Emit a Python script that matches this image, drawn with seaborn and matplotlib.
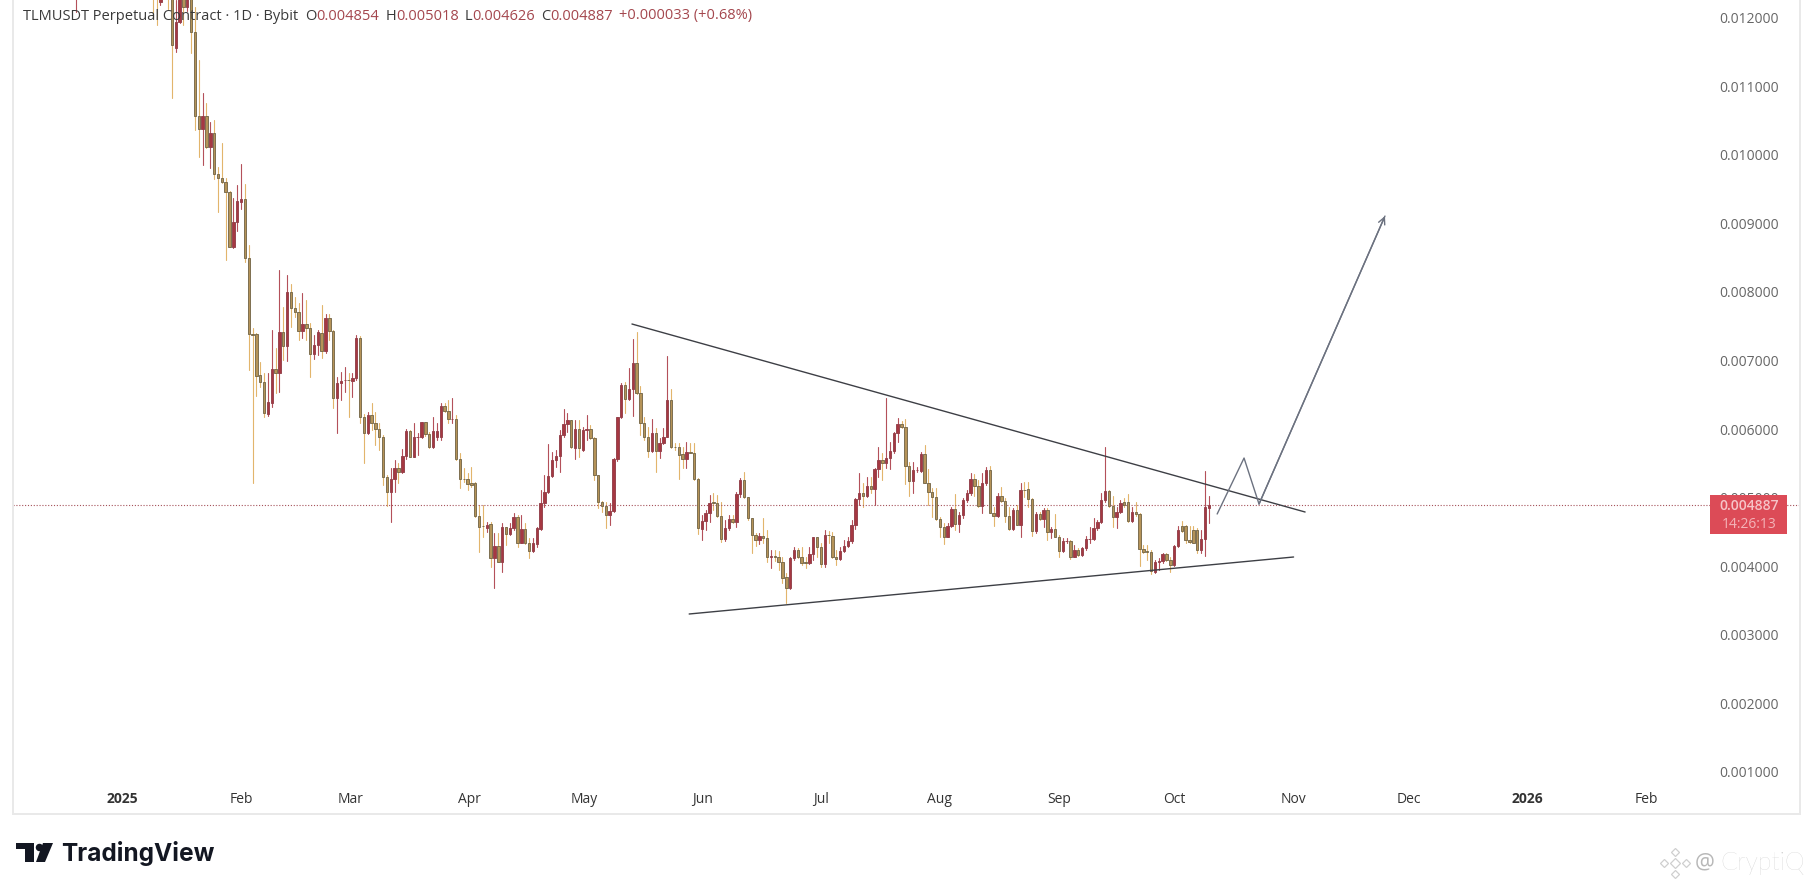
import numpy as np
import pandas as pd
import matplotlib
matplotlib.use("Agg")
import matplotlib.pyplot as plt
from matplotlib.patches import Rectangle, Polygon
import seaborn as sns

# =========================
# DATA (prices x 1e-6, TLMUSDT daily)
# =========================

opens = [
    12500, 12500, 12230, 12600, 12450, 12300, 11550, 11939, 12400, 12148, 12400, 11784, 10569,
    10369, 10569, 10117, 10311, 9713, 9655, 9606, 9451, 8659, 9013, 9314, 9349, 8488,
    7385, 7385, 6787, 6680, 6219, 6384, 6870, 6812, 7409, 7215, 7993, 7759, 7701, 7434, 7526, 7477,
    7089, 7225, 7395, 7142, 7614, 7434, 6447, 6666, 6710, 6714, 6705, 6739, 7322, 6180, 5946, 6204,
    6083, 5995, 5888, 5295, 5077, 5271, 5427, 5368, 5606, 5966, 5597, 5879, 5879, 6097, 5927, 5733,
    5888, 5888, 6340, 6267, 6151, 6151, 5567, 5275, 5275, 5218, 5218, 4736, 4590, 4561, 4610, 4114,
    4294, 4066, 4566, 4464, 4561, 4712, 4343, 4537, 4333, 4226, 4323, 4537, 4916, 5077, 5315, 5548,
    5611, 5912, 6073, 6131, 5718, 6000, 5694, 5990, 6000, 5864, 5324, 4941, 4882, 4746, 4809, 5558,
    6170, 6642, 6432, 6578, 6957, 6520, 6092, 5888, 5684, 5946, 5684, 5791, 5888, 6423, 5738, 5733,
    5631, 5558, 5669, 5655, 5266,
    4542, 4663, 4780, 4930, 4925, 4731, 4391, 4551, 4683, 4648, 5052, 5256, 5003, 4697, 4454, 4381,
    4440, 4405, 4138, 4143, 4138, 4056, 3837, 3676, 4114, 4235, 4128, 4056, 4051, 4177, 4420, 4274,
    4031, 4454, 4445, 4138, 4104, 4221, 4299, 4371, 4600, 4979, 5062, 5028, 5169, 5120, 5411, 5548,
    5509, 5572, 5684, 5936, 6072, 6024, 5460, 5246, 5402, 5382, 5635, 5217, 5086, 5003, 4692, 4566,
    4430, 4590, 4833, 4614, 4746, 4964, 5062, 5271, 5173, 4882, 5207, 5402, 4780, 4736, 5023, 4955,
    4736, 4542, 4819, 4605, 5110, 5120, 4974, 4517, 4760, 4687, 4819, 4493, 4537, 4430, 4226, 4367,
    4367, 4138, 4235, 4167, 4260, 4391, 4391, 4551, 4639, 4964, 5091, 4882, 4712, 4794, 4940, 4940,
    4663, 4785, 4755, 4245, 4216, 4211, 3919, 4056, 4075, 4177, 4090, 4017, 4294,
    4586, 4586, 4382, 4527, 4527, 4236, 4391, 4854,
]
closes = [
    12300, 12300, 12300, 12450, 12300, 11599, 11939, 12600, 12148, 12400, 11784, 10569, 10369,
    10569, 10117, 10311, 9713, 9655, 9606, 9451, 8659, 9013, 9324, 9349, 8488, 7385,
    7370, 6778, 6680, 6228, 6389, 6870, 6812, 7409, 7215, 7993, 7759, 7701, 7434, 7526, 7477, 7089,
    7225, 7409, 7142, 7614, 7434, 6447, 6666, 6705, 6714, 6710, 6739, 7322, 6180, 5946, 6204, 6083,
    5995, 5888, 5295, 5077, 5271, 5427, 5368, 5606, 5976, 5597, 5879, 5885, 6097, 5927, 5733, 5976,
    5976, 6340, 6267, 6141, 6151, 5567, 5266, 5266, 5198, 5184, 4736, 4576, 4586, 4600, 4114, 4294,
    4066, 4566, 4464, 4561, 4712, 4343, 4537, 4333, 4226, 4333, 4552, 4916, 5077, 5315, 5548, 5611,
    5912, 6073, 6131, 5733, 6000, 5718, 5985, 6000, 5864, 5324, 4941, 4882, 4746, 4809, 5558, 6170,
    6642, 6432, 6578, 6957, 6520, 6092, 5888, 5684, 5946, 5684, 5791, 5888, 6423, 5733, 5733, 5621,
    5558, 5669, 5655, 5266, 4552,
    4663, 4780, 4925, 4925, 4731, 4391, 4551, 4683, 4648, 5052, 5256, 5003, 4697, 4454, 4381, 4440,
    4405, 4138, 4143, 4138, 4056, 3822, 3676, 4114, 4235, 4128, 4051, 4051, 4177, 4420, 4274, 4031,
    4454, 4450, 4138, 4104, 4221, 4299, 4371, 4600, 4979, 5062, 5028, 5169, 5120, 5411, 5548, 5509,
    5572, 5684, 5936, 6072, 6024, 5460, 5246, 5402, 5407, 5635, 5217, 5086, 5003, 4692, 4566, 4430,
    4590, 4833, 4614, 4746, 4964, 5062, 5271, 5173, 4882, 5207, 5402, 4780, 4736, 5023, 4955, 4736,
    4542, 4819, 4605, 5110, 5105, 4974, 4517, 4760, 4687, 4819, 4493, 4542, 4430, 4226, 4367, 4371,
    4138, 4235, 4167, 4260, 4391, 4396, 4551, 4639, 4964, 5091, 4882, 4712, 4794, 4925, 4891, 4663,
    4785, 4755, 4245, 4211, 4211, 3934, 4056, 4075, 4177, 4090, 4017, 4294, 4527,
    4518, 4382, 4357, 4343, 4236, 4391, 4868, 4887,
]
highs = [
    12700, 12650, 12500, 12700, 12600, 12400, 12255, 12700, 12500, 12450, 12450, 12158, 11380,
    10894, 10748, 10481, 10505, 9825, 10165, 9655, 9470, 9363, 9558, 9864, 9572, 8683,
    7468, 7400, 6982, 6812, 6812, 7443, 7176, 8318, 7784, 8245, 8114, 7929, 7832, 7978, 7881, 7541,
    7370, 7443, 7808, 7677, 7677, 7443, 6763, 6836, 6909, 6812, 6812, 7370, 7356, 6219, 6243, 6374,
    6253, 6083, 5912, 5329, 5427, 5548, 5499, 5704, 6000, 5990, 6083, 5937, 6107, 6107, 5961, 6180,
    6083, 6384, 6374, 6423, 6447, 6204, 5645, 5427, 5354, 5441, 5232, 4892, 4892, 4649, 4639, 4479,
    4479, 4625, 4576, 4625, 4770, 4746, 4746, 4625, 4406, 4406, 4576, 5111, 5329, 5781, 5669, 5694,
    5985, 6287, 6238, 6135, 6131, 6131, 6034, 6204, 6058, 5888, 5329, 4955, 4941, 4916, 5572, 6180,
    6666, 6690, 6884, 7312, 7419, 6627, 6180, 6034, 6141, 6010, 5864, 6010, 7064, 6578, 5791, 5801,
    5742, 5815, 5791, 5791, 5281,
    4746, 4819, 5037, 5062, 5037, 4940, 4673, 4746, 4746, 5086, 5280, 5378, 5013, 4707, 4478, 4478,
    4697, 4527, 4235, 4235, 4226, 4138, 3895, 4138, 4284, 4260, 4284, 4138, 4284, 4430, 4430, 4333,
    4527, 4512, 4503, 4235, 4284, 4381, 4420, 4673, 4989, 5363, 5207, 5305, 5305, 5426, 5732, 5654,
    6447, 5815, 5961, 6155, 6121, 6140, 5523, 5523, 5450, 5669, 5766, 5411, 5134, 5134, 4721, 4624,
    4624, 4857, 5052, 4794, 4989, 5110, 5363, 5343, 5256, 5353, 5441, 5460, 4867, 5062, 5149, 4989,
    4867, 4853, 4891, 5217, 5232, 5232, 4989, 4794, 4794, 4843, 4843, 4576, 4760, 4454, 4405, 4405,
    4381, 4308, 4260, 4284, 4440, 4576, 4697, 4673, 5062, 5742, 5110, 5028, 4867, 4964, 4989, 5052,
    4867, 4940, 4780, 4308, 4308, 4235, 4090, 4114, 4196, 4187, 4138, 4308, 4585,
    4664, 4600, 4586, 4586, 4552, 4527, 5393, 5018,
]
lows = [
    11988, 11890, 12180, 12300, 12120, 10821, 11502, 11915, 11890, 12100, 11477, 10360, 9971,
    9849, 10100, 9801, 9645, 9159, 9590, 8464, 8650, 8634, 8892, 9203, 8430, 6860,
    5218, 6481, 6617, 6170, 6190, 6326, 6520, 6544, 7006, 6996, 7492, 7638, 7298, 7322, 7298, 6763,
    7016, 7079, 7030, 7113, 7298, 6301, 5937, 6423, 6544, 6180, 6471, 6714, 6083, 5499, 5927, 5985,
    5767, 5694, 5184, 4882, 4649, 5086, 5208, 5354, 5558, 5590, 5590, 5621, 5864, 5903, 5718, 5718,
    5840, 5840, 6253, 6083, 6083, 5548, 5135, 5232, 5111, 5159, 4722, 4212, 4420, 4503, 3993, 3687,
    4060, 3920, 4309, 4454, 4527, 4275, 4333, 4323, 4124, 4212, 4284, 4527, 4868, 5062, 5305, 5441,
    5378, 5888, 5961, 5718, 5563, 5597, 5684, 5840, 5849, 5256, 4843, 4795, 4552, 4600, 4795, 5538,
    6155, 6228, 6423, 6190, 6510, 5912, 5840, 5597, 5669, 5378, 5572, 5781, 5878, 5718, 5694, 5271,
    5427, 5427, 5655, 5256, 4469,
    4381, 4527, 4648, 4819, 4721, 4357, 4371, 4527, 4634, 4566, 5013, 4989, 4673, 4196, 4294, 4323,
    4333, 4065, 3968, 4080, 3944, 3749, 3467, 3662, 4090, 4114, 4017, 3968, 4031, 4090, 4138, 3992,
    3992, 4333, 4114, 4017, 4090, 4201, 4284, 4342, 4537, 4891, 4867, 5013, 5062, 4891, 5305, 5256,
    5426, 5411, 5654, 5815, 6009, 5198, 5023, 5071, 5378, 5373, 5207, 4891, 4721, 4673, 4430, 4323,
    4420, 4576, 4527, 4503, 4697, 4940, 5037, 5028, 4867, 4770, 5183, 4770, 4585, 4721, 4940, 4648,
    4527, 4527, 4595, 4420, 5013, 4867, 4440, 4478, 4673, 4566, 4381, 4405, 4420, 4128, 4211, 4333,
    4099, 4128, 4153, 4153, 4235, 4333, 4381, 4527, 4624, 4940, 4867, 4566, 4551, 4770, 4867, 4648,
    4644, 4736, 4002, 4196, 4090, 3881, 3895, 3944, 4041, 4080, 3910, 4002, 4274,
    4503, 4343, 4333, 4333, 4197, 4197, 4148, 4626,
]

# wick of a December candle, its body is above the top of the chart
dec_day = -12
dec_candle = [12800, 12900, 13000, 12085]

last_day = 283  # 11 Oct 2025, counted from 1 Jan 2025

price_ticks = [1000, 2000, 3000, 4000, 5000, 6000, 7000, 8000, 9000, 10000, 11000, 12000]
month_days = [0, 31, 59.5, 90.5, 120.5, 151.3, 182, 213, 244, 274, 305, 335, 366, 397]
month_labels = ["2025", "Feb", "Mar", "Apr", "May", "Jun", "Jul", "Aug", "Sep", "Oct", "Nov", "Dec", "2026", "Feb"]

resistance_days = [132.8, 308.1]
resistance_prices = [7531, 4790]
support_days = [147.7, 305.1]
support_prices = [3303, 4134]
path_days = [285.2, 292.2, 296.1, 328.9]
path_prices = [4761, 5577, 4906, 9105]

last_price = 4887

RED = "#a63842"
RED_EDGE = "#93404a"
RED_WICK = "#b4505a"
TAN = "#b59358"
TAN_EDGE = "#77694a"
TAN_WICK = "#e2b56c"

W, H = 1814, 890

sns.set_theme(style="white")
plt.rcParams["font.family"] = ["Open Sans", "DejaVu Sans"]

fig = plt.figure(figsize=(W / 100, H / 100), dpi=100)


def px_box(left, top, right, bottom):
    return [left / W, 1 - bottom / H, (right - left) / W, (bottom - top) / H]


ax = fig.add_axes(px_box(13, 0, 1800, 814))

# =========================
# CANDLES
# =========================

n = len(opens)
days = np.r_[dec_day, np.arange(last_day - n + 1, last_day + 1)]
df = pd.DataFrame({
    "day": days,
    "open": np.r_[dec_candle[0], opens] / 1e6,
    "close": np.r_[dec_candle[1], closes] / 1e6,
    "high": np.r_[dec_candle[2], highs] / 1e6,
    "low": np.r_[dec_candle[3], lows] / 1e6,
})
df["up"] = df["close"] >= df["open"]
df["bottom"] = df[["open", "close"]].min(axis=1)
df["height"] = (df["close"] - df["open"]).abs()

wicks = df.melt(id_vars=["day", "up"], value_vars=["high", "low"], value_name="price")
sns.lineplot(
    data=wicks, x="day", y="price", units="day", estimator=None, hue="up",
    palette={True: RED_WICK, False: TAN_WICK}, linewidth=0.8, legend=False, ax=ax,
)

for is_up, face, edge in [(True, RED, RED_EDGE), (False, TAN, TAN_EDGE)]:
    part = df[df["up"] == is_up]
    sns.barplot(
        data=part, x="day", y="height", bottom=part["bottom"].values, native_scale=True,
        color=face, saturation=1, width=0.62, edgecolor=edge, linewidth=0.65,
        errorbar=None, ax=ax, zorder=3,
    )

# =========================
# DRAWINGS
# =========================

ax.axhline(last_price / 1e6, color="#a5525a", linestyle=(0, (1, 1.6)), linewidth=0.8, zorder=2)

for xs, ys in [(resistance_days, resistance_prices), (support_days, support_prices)]:
    sns.lineplot(x=xs, y=np.array(ys) / 1e6, color="#3d3f45", linewidth=1.0, sort=False,
                 estimator=None, ax=ax, zorder=4)

sns.lineplot(x=path_days, y=np.array(path_prices) / 1e6, color="#6c7280", linewidth=1.0, sort=False,
             estimator=None, ax=ax, zorder=4)
ax.annotate(
    "", xy=(path_days[-1], path_prices[-1] / 1e6), xytext=(path_days[-2], path_prices[-2] / 1e6),
    arrowprops=dict(arrowstyle="->", color="#6c7280", lw=1.0, mutation_scale=12, shrinkA=0, shrinkB=0),
    zorder=4,
)

# =========================
# AXES
# =========================

ax.set_xlim((13 - 122) / 3.84, (1800 - 122) / 3.84)
ax.set_ylim(387e-6, 12255e-6)
ax.set_xlabel("")
ax.set_ylabel("")

ax.set_xticks(month_days)
ax.set_xticklabels(month_labels)
ax.tick_params(axis="x", length=0, pad=-16, labelsize=10, labelcolor="#333333")
for lab in ax.get_xticklabels():
    if lab.get_text() in ("2025", "2026"):
        lab.set_fontweight("bold")

ax.yaxis.tick_right()
ax.set_yticks(np.array(price_ticks) / 1e6)
ax.set_yticklabels([f"{p / 1e6:.6f}" for p in price_ticks])
ax.tick_params(axis="y", length=0, pad=-15, labelsize=10, labelcolor="#666666")
for lab in ax.get_yticklabels():
    lab.set_ha("right")

for side, spine in ax.spines.items():
    spine.set_color("#e9e9e9")
    spine.set_linewidth(1.4)
ax.spines["top"].set_visible(False)

# =========================
# HEADER
# =========================

renderer = fig.canvas.get_renderer()
x_pos = 23
header = [
    ("TLMUSDT Perpetual Contract · 1D · Bybit", "#3a3a3a", 7),
    ("O", "#3a3a3a", 0), ("0.004854", "#a4474e", 6),
    ("H", "#3a3a3a", 0), ("0.005018", "#a4474e", 6),
    ("L", "#3a3a3a", 0), ("0.004626", "#a4474e", 6),
    ("C", "#3a3a3a", 0), ("0.004887", "#a4474e", 6),
    ("+0.000033 (+0.68%)", "#a4474e", 0),
]
for text, col, gap in header:
    t = fig.text(x_pos / W, 1 - 16 / H, text, color=col, fontsize=10.5, va="center", ha="left", zorder=6)
    x_pos = t.get_window_extent(renderer).x1 + gap

# =========================
# LAST PRICE LABEL
# =========================

ax.add_patch(Rectangle((1710 / W, 1 - 534 / H), 77 / W, 39 / H, transform=fig.transFigure,
                       facecolor="#dc4b57", edgecolor="none", zorder=5, clip_on=False))
fig.text(1749 / W, 1 - 506 / H, "0.004887", color="#f6c4c8", fontsize=10, ha="center", va="center",
         fontweight="semibold", zorder=6)
fig.text(1749 / W, 1 - 524 / H, "14:26:13", color="#f3b4b9", fontsize=10, ha="center", va="center", zorder=6)

# =========================
# LOGO AND WATERMARK
# =========================


def to_fig(points):
    return [(x / W, 1 - y / H) for x, y in points]


logo = "#131722"
fig.add_artist(Polygon(to_fig([(16, 843), (34, 843), (34, 862), (25, 862), (25, 849), (16, 849)]),
                       transform=fig.transFigure, facecolor=logo, edgecolor="none"))
fig.add_artist(Polygon(to_fig([(43, 843), (53, 843), (45, 862), (36, 862)]),
                       transform=fig.transFigure, facecolor=logo, edgecolor="none"))
fig.add_artist(plt.Line2D([39 / W], [1 - 847 / H], marker="o", markersize=5.4, color=logo,
                          markeredgewidth=0, transform=fig.transFigure))
fig.text(61 / W, 1 - 853 / H, "TradingView", color=logo, fontsize=17.6, fontweight="bold",
         family=["Inter", "DejaVu Sans"], ha="left", va="center")

wm = "#cfcfcf"
for dx, dy, size in [(0, -11, 4.5), (-11, 0, 4.5), (11, 0, 4.5), (0, 11, 4.5), (0, 0, 5)]:
    fig.add_artist(plt.Line2D([(1675 + dx) / W], [1 - (863 + dy) / H], marker="D", markersize=size,
                              markerfacecolor="none", markeredgecolor=wm, markeredgewidth=0.9,
                              transform=fig.transFigure))
fig.text(1705 / W, 1 - 863 / H, "@", color="#b8b8b8", fontsize=16, ha="center", va="center")
fig.text(1720 / W, 1 - 863 / H, "CryptiQ", color="#c6c6c6", fontsize=18, ha="left", va="center",
         family=["Lato", "DejaVu Sans"], fontweight="light")

fig.savefig("out.png", dpi=100)
